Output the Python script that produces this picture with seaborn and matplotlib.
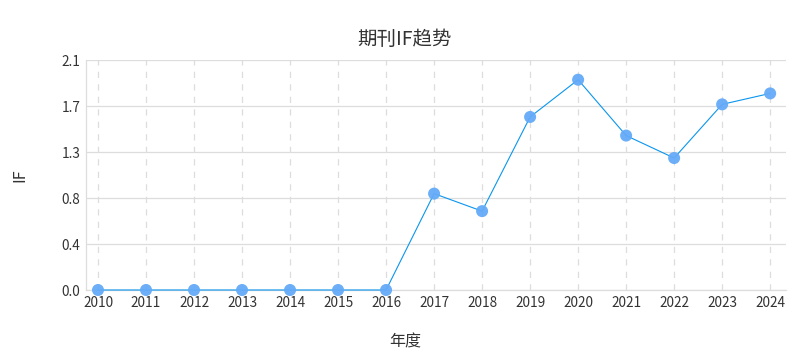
import pandas as pd
import seaborn as sns
import matplotlib.pyplot as plt
from matplotlib.ticker import FixedLocator, FormatStrFormatter

sns.set_style("white")
plt.rcParams['font.family'] = ['Noto Sans CJK SC', 'DejaVu Sans']
plt.rcParams['axes.unicode_minus'] = False

years = [2010, 2011, 2012, 2013, 2014, 2015, 2016, 2017, 2018, 2019, 2020, 2021, 2022, 2023, 2024]
if_values = [0, 0, 0, 0, 0, 0, 0, 0.88, 0.72, 1.58, 1.92, 1.41, 1.205, 1.695, 1.795]
y_ticks = [0, 0.42, 0.84, 1.26, 1.68, 2.1]

df = pd.DataFrame({"年度": years, "IF": if_values})

fig = plt.figure(figsize=(8.1, 3.6), dpi=100)
ax = fig.add_axes([86 / 810, 70 / 360, 700 / 810, 230 / 360])

sns.lineplot(x="年度", y="IF", data=df, color="#0a96ee", linewidth=0.8, ax=ax,
             zorder=3, clip_on=False)
sns.scatterplot(x="年度", y="IF", data=df, color="#64aaf7", s=75, edgecolor="none",
                alpha=0.95, ax=ax, zorder=4, clip_on=False)

ax.set_xlim(2009.75, 2024.33)
ax.set_ylim(0, 2.1)
ax.xaxis.set_major_locator(FixedLocator(years))
ax.yaxis.set_major_locator(FixedLocator(y_ticks))
ax.yaxis.set_major_formatter(FormatStrFormatter('%.1f'))

ax.grid(axis="y", color="#dddddd", linewidth=0.9)
ax.grid(axis="x", color="#dddddd", linewidth=0.9, linestyle=(0, (5, 5)))
ax.set_axisbelow(True)
for side in ["top", "right"]:
    ax.spines[side].set_visible(False)
for side in ["left", "bottom"]:
    ax.spines[side].set_color("#dddddd")
    ax.spines[side].set_linewidth(0.9)
ax.tick_params(length=0, labelsize=9.8, colors="#333333", pad=4)

fig.suptitle("期刊IF趋势", x=0.5, y=0.92, fontsize=14, color="#333333")
ax.set_xlabel("年度", fontsize=11.5, color="#333333")
ax.xaxis.set_label_coords((405 - 86) / 700, -0.19)
ax.set_ylabel("IF", fontsize=11.5, color="#333333", labelpad=24)

plt.savefig("out.png", dpi=100)
